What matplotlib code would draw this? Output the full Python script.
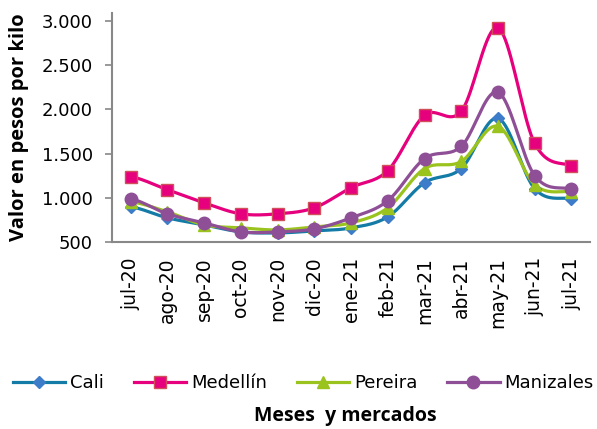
import numpy as np
import matplotlib
matplotlib.use("Agg")
import matplotlib.pyplot as plt

plt.rcParams['font.family'] = ['DejaVu Sans']

meses = ['jul-20', 'ago-20', 'sep-20', 'oct-20', 'nov-20', 'dic-20', 'ene-21',
         'feb-21', 'mar-21', 'abr-21', 'may-21', 'jun-21', 'jul-21']
cali = [898, 773, 693, 614, 602, 625, 659, 784, 1170, 1330, 1898, 1102, 990]
medellin = [1239, 1091, 943, 818, 818, 886, 1114, 1307, 1932, 1977, 2920, 1614, 1364]
pereira = [955, 841, 693, 660, 636, 670, 716, 886, 1330, 1410, 1807, 1148, 1068]
manizales = [989, 818, 716, 614, 614, 648, 773, 966, 1443, 1580, 2193, 1250, 1102]


def suave(y, n=20):
    # curva tipo Catmull-Rom, como la linea suavizada de Excel
    y = np.asarray(y, float)
    p = np.concatenate([[y[0]], y, [y[-1]]])
    xs, ys = [], []
    for i in range(len(y) - 1):
        p0, p1, p2, p3 = p[i], p[i + 1], p[i + 2], p[i + 3]
        t = np.linspace(0, 1, n, endpoint=False)
        v = 0.5 * ((2 * p1) + (-p0 + p2) * t + (2 * p0 - 5 * p1 + 4 * p2 - p3) * t ** 2
                   + (-p0 + 3 * p1 - 3 * p2 + p3) * t ** 3)
        xs.append(i + t)
        ys.append(v)
    xs.append([len(y) - 1])
    ys.append([y[-1]])
    return np.concatenate(xs), np.concatenate(ys)


fig = plt.figure(figsize=(5.97, 4.29), dpi=100)
ax = fig.add_axes([0.188, 0.436, 0.8, 0.534])

x = np.arange(len(meses))
series = [
    ('Cali', cali, '#137BA6', 'D', '#3D7CC9', '#3D7CC9', 6),
    ('Medellín', medellin, '#E6007E', 's', '#E6007E', '#D0505A', 8),
    ('Pereira', pereira, '#9BC31E', '^', '#9BC31E', '#9BC31E', 8),
    ('Manizales', manizales, '#8E4F96', 'o', '#8E4F96', '#8E4F96', 9),
]
handles = []
for nombre, vals, col, mk, fc, ec, ms in series:
    xs, ys = suave(vals)
    ax.plot(xs, ys, color=col, lw=2.3, zorder=2)
    ax.plot(x, vals, linestyle='none', marker=mk, ms=ms, mfc=fc, mec=ec, mew=1, zorder=3)
    h, = ax.plot([], [], color=col, lw=2.3, marker=mk, ms=ms, mfc=fc, mec=ec)
    h.set_label(nombre)
    handles.append(h)

ax.set_xlim(-0.5, 12.5)
ax.set_ylim(500, 3090)
ax.set_yticks(range(500, 3001, 500))
ax.set_yticklabels([f'{v:,}'.replace(',', '.') for v in range(500, 3001, 500)], fontsize=13)
ax.set_xticks(x)
ax.set_xticklabels(meses, rotation=90, fontsize=13.5)
ax.tick_params(axis='x', length=0, pad=11)
ax.tick_params(axis='y', length=5, color='#888888', width=1.2, pad=9)
for s in ['top', 'right']:
    ax.spines[s].set_visible(False)
for s in ['left', 'bottom']:
    ax.spines[s].set_color('#888888')
    ax.spines[s].set_linewidth(1.5)

ax.set_ylabel('Valor en pesos por kilo', fontsize=14.5, fontweight='bold', labelpad=9,
              family=['Open Sans', 'DejaVu Sans'])

fig.legend(handles=handles, loc='center', bbox_to_anchor=(0.508, 0.107), ncol=4,
           frameon=False, fontsize=13, handlelength=2.9, handletextpad=0.28,
           columnspacing=1.65, borderaxespad=0)
fig.text(0.578, 0.03, 'Meses  y mercados', ha='center', va='center',
         fontsize=14, fontweight='bold', family=['Open Sans', 'DejaVu Sans'])

fig.savefig('out.png', dpi=100)
